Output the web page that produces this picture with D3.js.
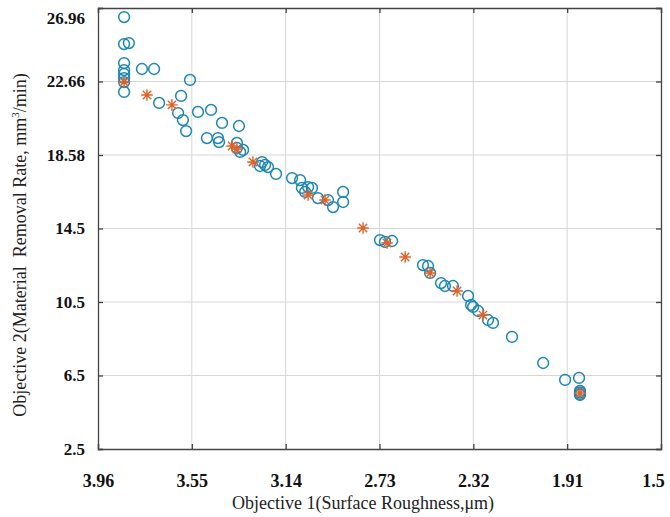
<!DOCTYPE html>
<html lang="en">
<head>
  <meta charset="UTF-8">
  <title>Pareto front: Surface Roughness vs Material Removal Rate</title>
  <script src="https://d3js.org/d3.v7.min.js"></script>
  <style>
    body { margin: 0; background: #fff; }
    .tick-label {
      font-family: "Liberation Serif", "Times New Roman", serif;
      font-weight: bold;
      fill: #111;
    }
    .axis-title {
      font-family: "Liberation Serif", "Times New Roman", serif;
      font-size: 18px;
      fill: #222;
    }
  </style>
</head>
<body>
<svg width="670" height="517"></svg>
<script>
  // tick labels (as printed on the figure)
  const xTicks = [3.96, 3.55, 3.14, 2.73, 2.32, 1.91, 1.5];
  const yTicks = [2.5, 6.5, 10.5, 14.5, 18.58, 22.66, 26.96];

  // blue circles (population)
  const circleX = [3.846, 3.846, 3.825, 3.846, 3.846, 3.846, 3.846, 3.846, 3.846, 3.768, 3.715,
    3.693, 3.597, 3.558, 3.610, 3.589, 3.575, 3.523, 3.466, 3.418, 3.344, 3.484, 3.436, 3.431,
    3.353, 3.353, 3.339, 3.326, 3.243, 3.230, 3.217, 3.252, 3.182, 3.112, 3.077, 3.069, 3.042,
    3.025, 3.055, 2.999, 2.955, 2.933, 2.889, 2.889, 2.728, 2.706, 2.675, 2.540, 2.518, 2.509,
    2.461, 2.444, 2.409, 2.343, 2.330, 2.321, 2.299, 2.256, 2.234, 2.151, 2.015, 1.919, 1.858,
    1.854, 1.854, 1.854, 1.854];
  const circleY = [26.43, 24.85, 24.91, 23.74, 23.33, 23.10, 22.86, 22.63, 22.08, 23.39, 23.39,
    21.47, 21.86, 22.75, 20.91, 20.52, 19.91, 20.97, 21.08, 20.36, 20.19, 19.52, 19.52, 19.30,
    19.25, 18.97, 18.75, 18.86, 18.19, 18.03, 17.91, 17.97, 17.53, 17.30, 17.19, 16.75, 16.80,
    16.75, 16.53, 16.19, 16.08, 15.69, 16.53, 15.97, 13.87, 13.77, 13.82, 12.51, 12.46, 12.08,
    11.53, 11.37, 11.37, 10.83, 10.34, 10.23, 10.01, 9.52, 9.36, 8.60, 7.18, 6.26, 6.37,
    5.66, 5.58, 5.50, 5.44];

  // orange asterisks (Pareto optimal)
  const starX = [3.846, 3.746, 3.637, 3.374, 3.353, 3.283, 3.042, 2.968, 2.802, 2.697, 2.618,
    2.509, 2.391, 2.278, 1.854];
  const starY = [22.63, 21.91, 21.36, 19.08, 18.91, 18.19, 16.36, 16.08, 14.53, 13.71, 12.95,
    12.08, 11.10, 9.79, 5.55];

  const width = 670, height = 517;
  const margin = {top: 8, right: 9, bottom: 68, left: 98};
  const innerW = width - margin.left - margin.right;
  const innerH = height - margin.top - margin.bottom;

  const svg = d3.select("svg");

  const x = d3.scaleLinear().domain([3.96, 1.5]).range([0, innerW]);
  // labels sit on evenly spaced ticks, so map them piecewise
  const y = d3.scaleLinear()
    .domain(yTicks)
    .range(yTicks.map((d, i) => innerH - i * innerH / (yTicks.length - 1)));

  const g = svg.append("g").attr("transform", `translate(${margin.left},${margin.top})`);

  // grid
  g.append("g").selectAll("line").data(xTicks.slice(1, -1)).join("line")
    .attr("x1", d => x(d)).attr("x2", d => x(d))
    .attr("y1", 0).attr("y2", innerH)
    .attr("stroke", "#d6d6d6").attr("stroke-width", 1);
  g.append("g").selectAll("line").data(yTicks.slice(1, -1)).join("line")
    .attr("y1", d => y(d)).attr("y2", d => y(d))
    .attr("x1", 0).attr("x2", innerW)
    .attr("stroke", "#d6d6d6").attr("stroke-width", 1);

  // axes (MATLAB-style inward ticks, box on)
  const tickLen = 5;
  const xAxisB = g.append("g").attr("transform", `translate(0,${innerH})`)
    .call(d3.axisBottom(x).tickValues(xTicks).tickSize(-tickLen).tickFormat(d3.format("")));
  const xAxisT = g.append("g")
    .call(d3.axisTop(x).tickValues(xTicks).tickSize(-tickLen).tickFormat(""));
  const yAxisL = g.append("g")
    .call(d3.axisLeft(y).tickValues(yTicks).tickSize(-tickLen).tickFormat(d3.format("")));
  const yAxisR = g.append("g").attr("transform", `translate(${innerW},0)`)
    .call(d3.axisRight(y).tickValues(yTicks).tickSize(-tickLen).tickFormat(""));

  [xAxisB, xAxisT, yAxisL, yAxisR].forEach(a => {
    a.select(".domain").attr("stroke", "#444").attr("stroke-width", 1.3);
    a.selectAll(".tick line").attr("stroke", "#444").attr("stroke-width", 1.3);
  });

  xAxisB.selectAll(".tick text")
    .attr("class", "tick-label")
    .style("font-size", "18px")
    .attr("y", 25)
    .attr("dx", (d, i) => i === xTicks.length - 1 ? -8 : 0);
  yAxisL.selectAll(".tick text")
    .attr("class", "tick-label")
    .style("font-size", "17px")
    .attr("x", -13)
    .attr("dy", d => d === 26.96 ? "0.9em" : "0.32em");

  // blue circles
  const circles = circleX.map((v, i) => ({x: v, y: circleY[i]}));
  g.append("g").selectAll("circle").data(circles).join("circle")
    .attr("cx", d => x(d.x)).attr("cy", d => y(d.y))
    .attr("r", 5.4)
    .attr("fill", "none")
    .attr("stroke", "#1c87b5")
    .attr("stroke-width", 1.5);

  // orange asterisks
  const stars = starX.map((v, i) => ({x: v, y: starY[i]}));
  const s = 5.8;
  const d2 = s * 0.72;
  const starPath = `M${-s},0L${s},0M0,${-s}L0,${s}M${-d2},${-d2}L${d2},${d2}M${-d2},${d2}L${d2},${-d2}`;
  g.append("g").selectAll("path").data(stars).join("path")
    .attr("transform", d => `translate(${x(d.x)},${y(d.y)})`)
    .attr("d", starPath)
    .attr("fill", "none")
    .attr("stroke", "#e0622a")
    .attr("stroke-width", 1.4);

  // axis titles
  svg.append("text")
    .attr("class", "axis-title")
    .attr("x", 363).attr("y", 509)
    .attr("text-anchor", "middle")
    .text("Objective 1(Surface Roughness,\u03bcm)");

  const yt = svg.append("text")
    .attr("class", "axis-title")
    .attr("transform", "translate(26,245) rotate(-90)")
    .attr("text-anchor", "middle");
  yt.append("tspan").text("Objective 2(Material\u00a0 Removal Rate, mm");
  yt.append("tspan").attr("font-size", "11px").attr("dy", -7).text("3");
  yt.append("tspan").attr("dy", 7).text("/min)");
</script>
</body>
</html>
